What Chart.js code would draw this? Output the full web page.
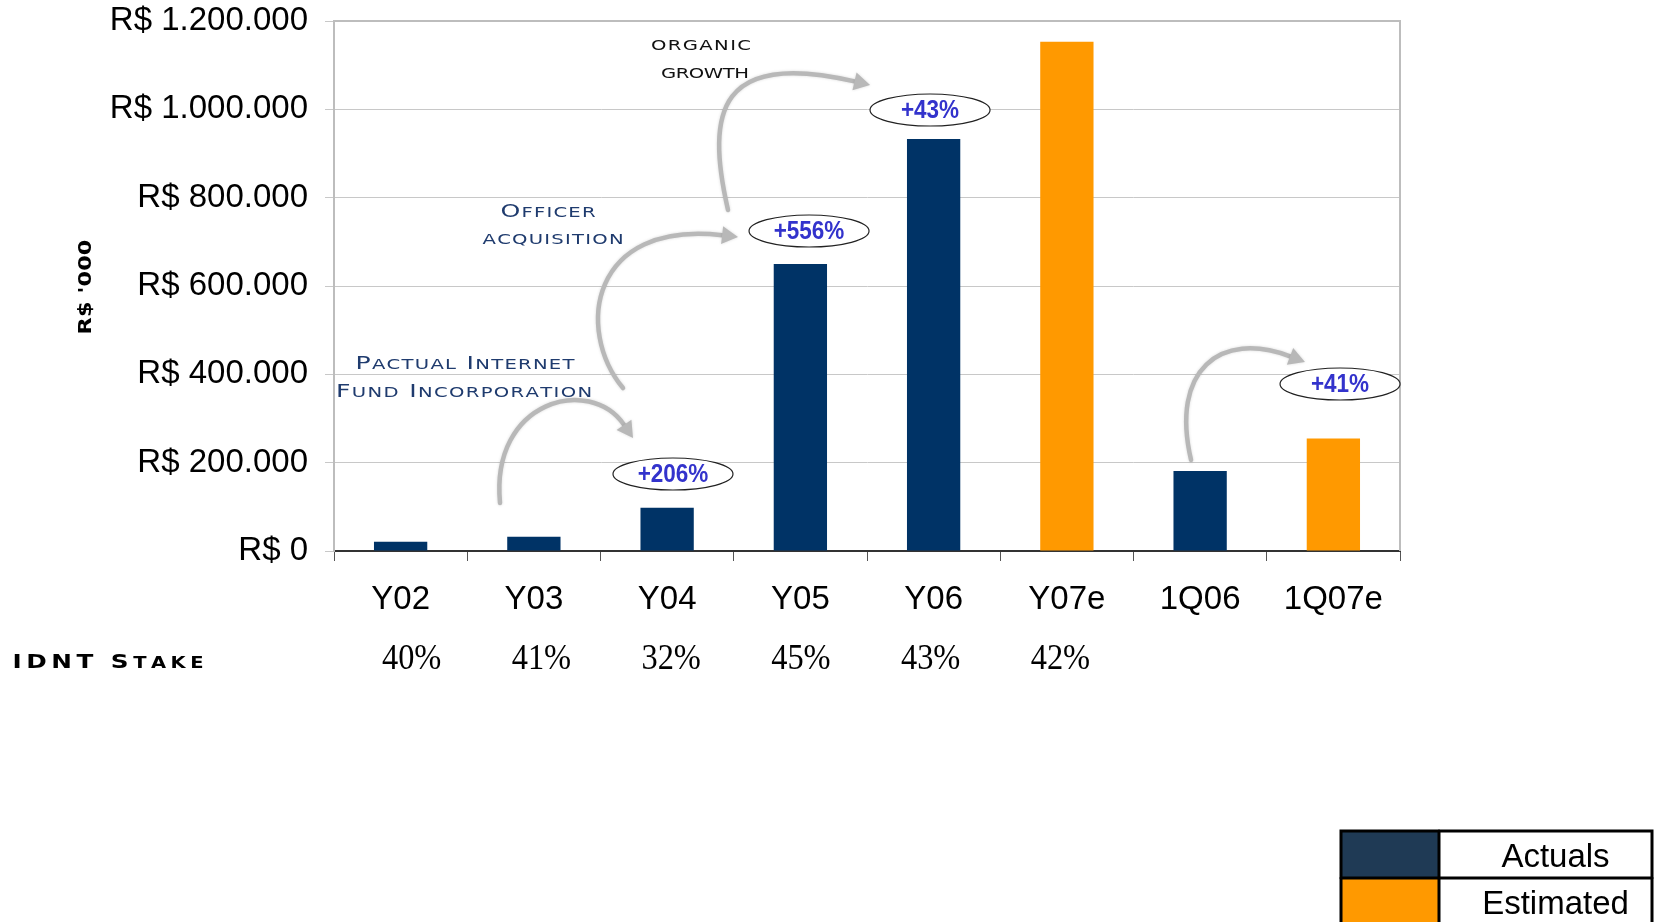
<!DOCTYPE html>
<html><head><meta charset="utf-8">
<script src="https://cdn.jsdelivr.net/npm/chart.js@4.4.0/dist/chart.umd.min.js"></script>
<style>html,body{margin:0;padding:0;background:#fff;}#wrap{position:relative;width:1654px;height:922px;}</style>
</head><body><div id="wrap"><canvas id="c" width="1654" height="922"></canvas></div>
<script>
// ---- data ----
const categories = ['Y02', 'Y03', 'Y04', 'Y05', 'Y06', 'Y07e', '1Q06', '1Q07e'];
const actuals    = [21000, 32000, 98000, 650000, 933000, null, 181000, null];
const estimated  = [null, null, null, null, null, 1153000, null, 255000];
const stakeLabels = ['40%', '41%', '32%', '45%', '43%', '42%', '', ''];
const growthLabels = ['+206%', '+556%', '+43%', '+41%'];
const legendLabels = ['Actuals', 'Estimated'];
const yMin = 0, yMax = 1200000, yStep = 200000;

// ---- annotation geometry (category units, value units) ----
const bubbles = [
  {x: 2.044, y: 174300}, {x: 3.065, y: 724500}, {x: 3.973, y: 998500}, {x: 7.05, y: 378100}
];
const arrows = [
  [[0.746,108700],[0.671,341900],[1.421,398500],[1.744,255800]],
  [[1.669,369000],[1.309,500400],[1.421,749400],[2.532,711000]],
  [[2.457,772100],[2.284,998500],[2.397,1134300],[3.523,1055100]],
  [[5.932,206000],[5.774,409800],[6.149,500400],[6.787,427900]]
];
const notes = [
  {text:'organic', x:2.254, y:1145600, w:100, color:'#111'},
  {text:'growth', x:2.284, y:1082200, w:88, color:'#111'},
  {text:'Officer', x:1.106, y:772000, w:95, color:'#1f3b6e'},
  {text:'acquisition', x:1.144, y:706400, w:141, color:'#1f3b6e'},
  {text:'Pactual Internet', x:0.483, y:427900, w:219, color:'#1f3b6e'},
  {text:'Fund Incorporation', x:0.476, y:364500, w:256, color:'#1f3b6e'}
];

const NAVY = '#003366', ORANGE = '#ff9900';
const FONT = '"Liberation Sans", Arial, sans-serif';

function fmt(v){ return 'R$ ' + String(v).replace(/\B(?=(\d{3})+(?!\d))/g, '.'); }

function drawCaps(ctx, text, cx, cy, o){
  const sx = o.sx || 1;
  const parts = [...text].map(ch => ({ch: ch.toUpperCase(), size: (ch !== ch.toUpperCase()) ? o.small : o.big}));
  let natural = 0, maxSize = 0;
  parts.forEach(p => { ctx.font = `${o.weight} ${p.size}px ${o.family}`; p.w = ctx.measureText(p.ch).width * sx; natural += p.w; maxSize = Math.max(maxSize, p.size); });
  const gap = o.width ? (o.width - natural) / (parts.length - 1) : 0;
  let x = cx - (natural + gap * (parts.length - 1)) / 2;
  const base = cy + maxSize * 0.73 / 2;
  ctx.fillStyle = o.color; ctx.textAlign = 'left'; ctx.textBaseline = 'alphabetic';
  parts.forEach(p => {
    ctx.font = `${o.weight} ${p.size}px ${o.family}`;
    ctx.save(); ctx.translate(x, base); ctx.scale(sx, 1); ctx.fillText(p.ch, 0, 0); ctx.restore();
    x += p.w + gap;
  });
}

const decor = {
  id: 'decor',
  afterDatasetsDraw(chart){
    const ctx = chart.ctx, xs = chart.scales.x, ys = chart.scales.y, a = chart.chartArea;
    const P = (pt) => [xs.getPixelForValue(pt[0]), ys.getPixelForValue(pt[1])];
    ctx.save();
    // top & right border
    ctx.strokeStyle = '#bdbdbd'; ctx.lineWidth = 2;
    ctx.beginPath(); ctx.moveTo(a.left, a.top); ctx.lineTo(a.right, a.top); ctx.lineTo(a.right, a.bottom); ctx.stroke();
    // arrows
    arrows.forEach(arr => {
      const p = arr.map(P);
      const dx = p[3][0] - p[2][0], dy = p[3][1] - p[2][1];
      const len = Math.hypot(dx, dy), ux = dx / len, uy = dy / len;
      const hl = 16, hw = 9;
      const bx = p[3][0] - ux * hl, by = p[3][1] - uy * hl;
      ctx.strokeStyle = '#b8b8b8'; ctx.lineWidth = 4.5; ctx.lineCap = 'round';
      ctx.shadowColor = 'rgba(0,0,0,0.15)'; ctx.shadowBlur = 3;
      ctx.beginPath(); ctx.moveTo(p[0][0], p[0][1]);
      ctx.bezierCurveTo(p[1][0], p[1][1], p[2][0], p[2][1], bx, by); ctx.stroke();
      ctx.fillStyle = '#b8b8b8';
      ctx.beginPath(); ctx.moveTo(p[3][0], p[3][1]);
      ctx.lineTo(bx - uy * hw, by + ux * hw); ctx.lineTo(bx + uy * hw, by - ux * hw); ctx.closePath(); ctx.fill();
      ctx.shadowBlur = 0; ctx.shadowColor = 'transparent';
    });
    // bubbles
    bubbles.forEach((b, i) => {
      const [cx, cy] = P([b.x, b.y]);
      ctx.beginPath(); ctx.ellipse(cx, cy, 60, 16, 0, 0, Math.PI * 2);
      ctx.fillStyle = '#fff'; ctx.fill(); ctx.strokeStyle = '#222'; ctx.lineWidth = 1.2; ctx.stroke();
      ctx.fillStyle = '#3333cc'; ctx.font = 'bold 25px ' + FONT;
      ctx.textAlign = 'center'; ctx.textBaseline = 'middle';
      ctx.save(); ctx.translate(cx, cy + 1); ctx.scale(0.9, 1); ctx.fillText(growthLabels[i], 0, 0); ctx.restore();
    });
    // notes
    notes.forEach(n => {
      const [cx, cy] = P([n.x, n.y]);
      drawCaps(ctx, n.text, cx, cy, {big: 18, small: 14, sx: 1.4, weight: 'normal', family: '"DejaVu Sans", sans-serif', color: n.color, width: n.w});
    });
    // stake row
    ctx.fillStyle = '#000'; ctx.font = '36px "Liberation Serif", serif'; ctx.textAlign = 'center'; ctx.textBaseline = 'middle';
    stakeLabels.forEach((s, i) => {
      if (!s) return;
      const x = xs.getPixelForValue(i) + 11 - 3.5 * i;
      ctx.save(); ctx.translate(x, a.bottom + 109); ctx.scale(0.9, 1); ctx.fillText(s, 0, 0); ctx.restore();
    });
    drawCaps(ctx, 'IDNT Stake', 108, 661, {big: 19, small: 15, sx: 1.3, weight: 'bold', family: '"DejaVu Sans", sans-serif', color: '#000', width: 191});
    // y title
    ctx.save(); ctx.translate(84, 287); ctx.rotate(-Math.PI / 2);
    drawCaps(ctx, "R$ '000", 0, 0, {big: 18, small: 18, sx: 1.25, weight: 'bold', family: '"DejaVu Sans", sans-serif', color: '#000', width: 95});
    ctx.restore();
    // legend table
    const lx = 1341, ly = 831, c1 = 98, c2 = 213, rh = 47;
    const lcol = ['#1f3a55', ORANGE];
    legendLabels.forEach((t, i) => {
      ctx.fillStyle = lcol[i]; ctx.fillRect(lx, ly + i * rh, c1, rh);
      ctx.fillStyle = '#000'; ctx.font = '33px ' + FONT; ctx.textAlign = 'center'; ctx.textBaseline = 'middle';
      ctx.fillText(t, lx + c1 + c2 / 2 + 10, ly + i * rh + rh / 2 + 3);
    });
    ctx.strokeStyle = '#000'; ctx.lineWidth = 3;
    ctx.strokeRect(lx, ly, c1 + c2, rh * 2);
    ctx.beginPath(); ctx.moveTo(lx + c1, ly); ctx.lineTo(lx + c1, ly + rh * 2);
    ctx.moveTo(lx, ly + rh); ctx.lineTo(lx + c1 + c2, ly + rh); ctx.stroke();
    ctx.restore();
  }
};

new Chart(document.getElementById('c'), {
  type: 'bar',
  data: {
    labels: categories,
    datasets: [
      {label: legendLabels[0], data: actuals, backgroundColor: NAVY},
      {label: legendLabels[1], data: estimated, backgroundColor: ORANGE}
    ]
  },
  options: {
    responsive: false, animation: false,
    layout: {padding: {top: 21, right: 254, left: 0, bottom: 0}},
    plugins: {legend: {display: false}, tooltip: {enabled: false}},
    datasets: {bar: {grouped: false, categoryPercentage: 1, barPercentage: 0.4}},
    scales: {
      x: {
        grid: {drawOnChartArea: false, drawTicks: true, tickLength: 10, color: '#555', offset: true},
        border: {display: true, color: '#333', width: 2},
        ticks: {font: {family: FONT, size: 33}, color: '#000', padding: 19},
        afterFit(s){ s.height = 371; s.paddingLeft = 0; s.paddingRight = 0; }
      },
      y: {
        min: yMin, max: yMax,
        ticks: {stepSize: yStep, callback: v => fmt(v), font: {family: FONT, size: 33}, color: '#000', padding: 17},
        grid: {color: '#c8c8c8', tickLength: 9, lineWidth: 1},
        border: {color: '#bdbdbd', width: 2},
        afterFit(s){ s.width = 334; s.paddingTop = 0; s.paddingBottom = 0; }
      }
    }
  },
  plugins: [decor]
});
</script></body></html>
